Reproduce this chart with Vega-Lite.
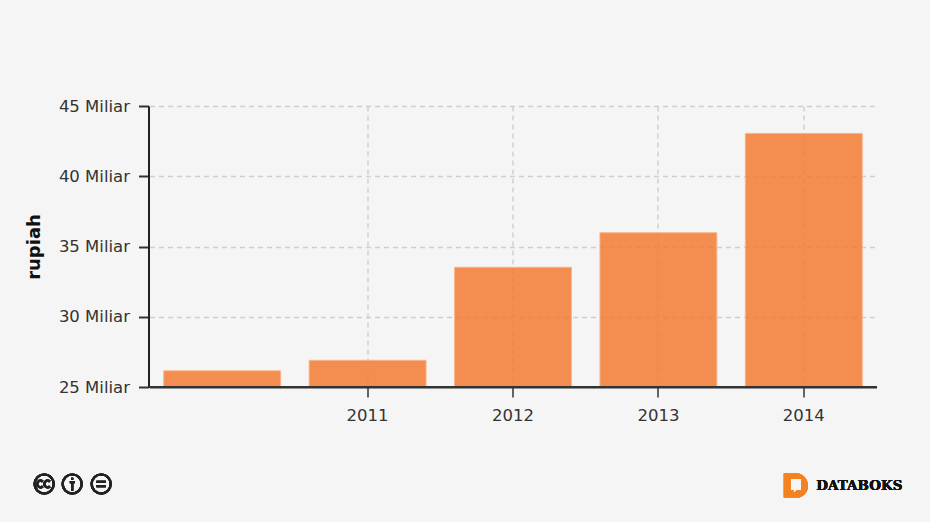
{
"$schema":"https://vega.github.io/schema/vega-lite/v6.json",
"width":727,"height":281,
"autosize":"none",
"padding":{"left":149.5,"top":106,"right":53.5,"bottom":135},
"background":"#f5f5f5",
"config":{"view":{"stroke":null},"font":"DejaVu Sans"},
"data":{"values":[
{"year":"2010","rupiah":26150000000},
{"year":"2011","rupiah":26900000000},
{"year":"2012","rupiah":33520000000},
{"year":"2013","rupiah":35980000000},
{"year":"2014","rupiah":43050000000}]},
"layer":[
{"mark":{"type":"bar","fill":"#f37b33","fillOpacity":0.85,"stroke":"#f9b48a","strokeWidth":1},
"encoding":{
"x":{"field":"year","type":"nominal","sort":null,"scale":{"paddingInner":0.196,"paddingOuter":0.098,"domain":["2010","2011","2012","2013","2014"]},
"axis":{"title":null,"values":["2011","2012","2013","2014"],"labelAngle":0,"labelFont":"DejaVu Sans","labelFontSize":16.5,"labelColor":"#333","labelPadding":10,"tickSize":10,"tickColor":"#333","tickWidth":1.5,"domainColor":"#333","domainWidth":2,"grid":true,"gridColor":"#cfcfcf","gridDash":[5,4],"gridWidth":1.5,"zindex":0}},
"y":{"field":"rupiah","type":"quantitative","scale":{"domain":[25000000000,45000000000],"nice":false,"clamp":true},
"axis":{"title":"rupiah","offset":1,"titleFont":"DejaVu Sans","titleFontSize":18,"titleFontWeight":"bold","titleColor":"#111","titlePadding":15,"values":[25000000000,30000000000,35000000000,40000000000,45000000000],"labelExpr":"(datum.value/1000000000)+' Miliar'","labelFont":"DejaVu Sans","labelFontSize":16.5,"labelColor":"#333","labelPadding":9,"tickSize":10,"tickColor":"#333","tickWidth":2,"domainColor":"#222","domainWidth":2,"grid":true,"gridColor":"#cfcfcf","gridDash":[5,4],"gridWidth":1.5,"zindex":0}}
}},
{"mark":{"type":"rule","stroke":"#333","strokeWidth":2},"encoding":{"y":{"datum":25000000000}}},
{"mark":{"type":"point","filled":false,"stroke":"#222","strokeWidth":2.2,"opacity":1,"size":361,"xOffset":-178,"yOffset":97,
"shape":"M-1,0A1,1 0 1,1 1,0A1,1 0 1,1 -1,0ZM-0.15,-0.25A0.35,0.35 0 1,0 -0.15,0.25M0.6,-0.25A0.35,0.35 0 1,0 0.6,0.25"},
"encoding":{"x":{"datum":"2010"},"y":{"datum":25000000000}}},
{"mark":{"type":"point","filled":false,"stroke":"#222","strokeWidth":2.2,"opacity":1,"size":361,"xOffset":-150,"yOffset":97,
"shape":"M-1,0A1,1 0 1,1 1,0A1,1 0 1,1 -1,0ZM0,-0.65L0,-0.45M-0.25,-0.2L0.25,-0.2M0,-0.2L0,0.7"},
"encoding":{"x":{"datum":"2010"},"y":{"datum":25000000000}}},
{"mark":{"type":"point","filled":false,"stroke":"#222","strokeWidth":2.2,"opacity":1,"size":361,"xOffset":-121,"yOffset":97,
"shape":"M-1,0A1,1 0 1,1 1,0A1,1 0 1,1 -1,0ZM-0.5,-0.22L0.5,-0.22M-0.5,0.22L0.5,0.22"},
"encoding":{"x":{"datum":"2010"},"y":{"datum":25000000000}}},
{"mark":{"type":"point","filled":true,"fill":"#f58220","stroke":null,"opacity":1,"size":576,"xOffset":-8,"yOffset":98.5,
"shape":"M-1,-1L0.2,-1A1,1 0 0 1 1,0L1,0.2A1,1 0 0 1 0.2,1L-1,1ZM-0.45,-0.55L-0.45,0.4L-0.2,0.4L-0.2,0.65L0.1,0.4L0.45,0.4L0.45,-0.55Z"},
"encoding":{"x":{"datum":"2014"},"y":{"datum":25000000000}}},
{"mark":{"type":"text","text":"DATABOKS","font":"DejaVu Serif","fontWeight":"bold","fontSize":13.5,"fill":"#111","align":"left","baseline":"middle","dx":12.5,"dy":98.5},
"encoding":{"x":{"datum":"2014"},"y":{"datum":25000000000}}}
]}
